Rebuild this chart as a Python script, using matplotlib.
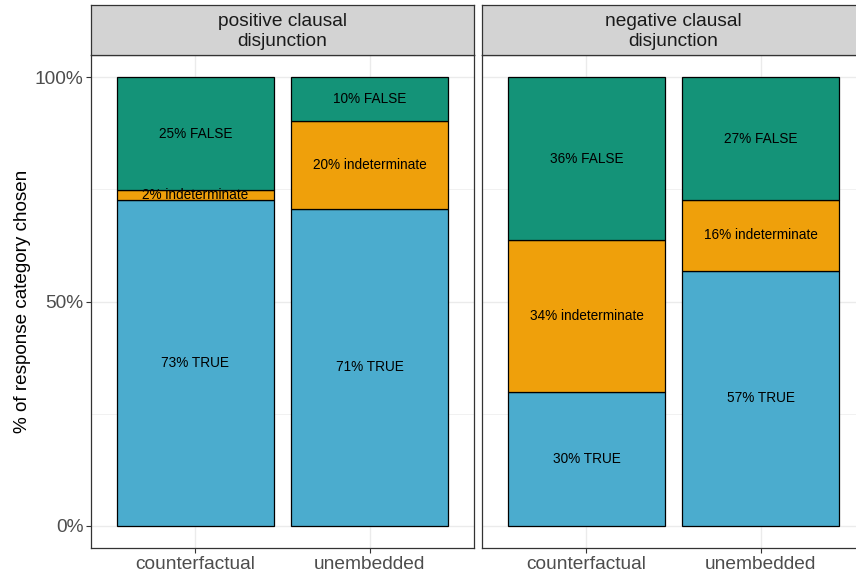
import matplotlib.pyplot as plt
import numpy as np

plt.rcParams['font.family'] = ['Liberation Sans', 'DejaVu Sans']

panels = ['positive clausal\ndisjunction', 'negative clausal\ndisjunction']
conditions = ['counterfactual', 'unembedded']
categories = ['TRUE', 'indeterminate', 'FALSE']
colors = ['#4BACCE', '#EFA00B', '#149378']

# proportions per panel, per condition: TRUE, indeterminate, FALSE
values = {
    'positive clausal\ndisjunction': [[0.727, 0.021, 0.252], [0.706, 0.196, 0.098]],
    'negative clausal\ndisjunction': [[0.297, 0.340, 0.363], [0.569, 0.157, 0.274]],
}

W, H = 856, 573
fig = plt.figure(figsize=(W / 100, H / 100), dpi=100)

lefts = [91, 482]
pw = 383
top_px, bot_px, strip_top = 55, 548, 5

for i, name in enumerate(panels):
    ax = fig.add_axes([lefts[i] / W, 1 - bot_px / H, pw / W, (bot_px - top_px) / H])
    x = np.arange(1, len(conditions) + 1)
    for j, cond in enumerate(conditions):
        bottom = 0
        for k, cat in enumerate(categories):
            v = values[name][j][k]
            ax.bar(x[j], v, bottom=bottom, width=0.9, color=colors[k],
                   edgecolor='black', linewidth=0.9, zorder=3)
            ax.text(x[j], bottom + v / 2, f'{round(v * 100):.0f}% {cat}',
                    ha='center', va='center', fontsize=9.8, color='black', zorder=4)
            bottom += v
    ax.set_xlim(0.4, 2.6)
    ax.set_ylim(-0.05, 1.05)
    ax.set_xticks(x)
    ax.set_xticklabels(conditions, fontsize=13.8, color='#4D4D4D')
    ax.set_yticks([0, 0.5, 1])
    ax.set_yticks([0.25, 0.75], minor=True)
    ax.grid(True, which='major', color='#EBEBEB', linewidth=1.0, zorder=0)
    ax.grid(True, which='minor', axis='y', color='#EBEBEB', linewidth=0.5, zorder=0)
    ax.set_axisbelow(True)
    ax.tick_params(which='minor', length=0)
    ax.tick_params(which='major', length=3.5, color='#333333', width=0.8, pad=2)
    if i == 0:
        ax.set_yticklabels(['0%', '50%', '100%'], fontsize=13.8, color='#4D4D4D')
        ax.set_ylabel('% of response category chosen', fontsize=13.6)
        ax.yaxis.set_label_coords(-0.157, 0.5)
    else:
        ax.set_yticklabels([])
        ax.tick_params(axis='y', which='major', length=0)
    for s in ax.spines.values():
        s.set_color('#333333')
        s.set_linewidth(0.9)

    sax = fig.add_axes([lefts[i] / W, 1 - top_px / H, pw / W, (top_px - strip_top) / H])
    sax.set_facecolor('#D3D3D3')
    sax.set_xticks([])
    sax.set_yticks([])
    for s in sax.spines.values():
        s.set_color('#333333')
        s.set_linewidth(0.9)
    sax.text(0.5, 0.47, name, ha='center', va='center', fontsize=13.8,
             color='#1A1A1A', linespacing=1.2, transform=sax.transAxes)

fig.savefig('out.png', dpi=100)
